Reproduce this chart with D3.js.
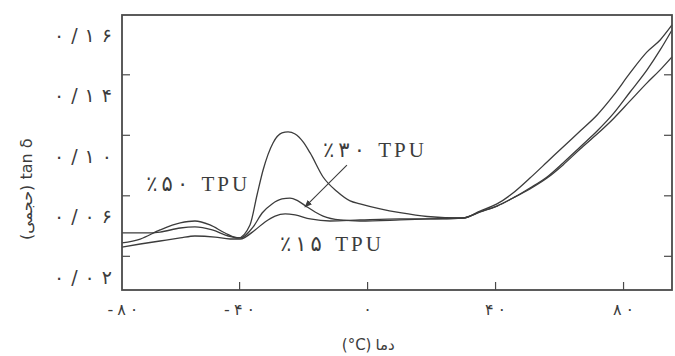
<!DOCTYPE html>
<html lang="fa">
<head>
<meta charset="UTF-8" />
<title>tan δ - TPU</title>
<script src="https://d3js.org/d3.v7.min.js"></script>
<style>
  body { margin: 0; background: #fff; }
  svg text { fill: #3c3c3c; }
  .curve { fill: none; stroke: #3c3c3c; stroke-width: 1.3px; }
  .frame { fill: none; stroke: #4a4a4a; stroke-width: 1.8px; }
  .tick line { stroke: #4a4a4a; stroke-width: 1.2px; }
  .num { font-family: "DejaVu Sans", sans-serif; }
  .lbl { font-family: "Liberation Serif", "DejaVu Sans", serif; }
</style>
</head>
<body>
<svg id="chart" width="675" height="356"></svg>
<script>
// temperature (°C) and tan δ
const temp50 = [-76.6, -70.9, -64.7, -58.4, -53.8, -49.1, -44.4, -40.3, -36.6, -34.4, -32.5, -29.4, -26.6, -24.7, -22.5, -20, -17.8, -13.75, -9.4, -5.3, -2.2, 4.1, 10.3, 18.75, 30, 35.3, 40.6, 45.6, 50.9, 56.25, 61.25, 66.6, 71.9, 76.9, 82.2, 87.5, 91.6, 95.3];
const tan50 = [0.0425, 0.0451, 0.0511, 0.0557, 0.0570, 0.0544, 0.0491, 0.0458, 0.0544, 0.0742, 0.0907, 0.1086, 0.1152, 0.1159, 0.1145, 0.1093, 0.1020, 0.0861, 0.0765, 0.0703, 0.0683, 0.0650, 0.0625, 0.0600, 0.0590, 0.0636, 0.0683, 0.0755, 0.0854, 0.0960, 0.1060, 0.1165, 0.1271, 0.1397, 0.1549, 0.1688, 0.1767, 0.1866];

const temp30 = [-76.6, -69.4, -64.7, -58.4, -53.8, -48.4, -43.4, -39.7, -35.6, -32.8, -29.7, -26.6, -24.1, -21.6, -18.75, -16.25, -13.75, -8.4, -2.2, 10.3, 19.7, 30, 35.3, 40.6, 45.6, 50.9, 56.25, 61.25, 66.6, 71.9, 76.9, 82.2, 87.5, 91.6, 95.3];
const tan30 = [0.0491, 0.0491, 0.0497, 0.0524, 0.0531, 0.0511, 0.0471, 0.0458, 0.0531, 0.0623, 0.0683, 0.0716, 0.0722, 0.0703, 0.0663, 0.0630, 0.0603, 0.0577, 0.0570, 0.0577, 0.0584, 0.0590, 0.0630, 0.0669, 0.0722, 0.0788, 0.0861, 0.0954, 0.1060, 0.1165, 0.1278, 0.1423, 0.1569, 0.1701, 0.1833];

const temp15 = [-76.6, -70.9, -64.7, -58.4, -53.8, -47.5, -42.8, -39.7, -35, -31.9, -28.75, -25.6, -22.5, -17.8, -11.6, -2.2, 10.3, 19.7, 30, 35.3, 40.6, 45.6, 50.9, 56.25, 61.25, 66.6, 71.9, 76.9, 82.2, 87.5, 91.6, 95.3];
const tan15 = [0.0398, 0.0418, 0.0438, 0.0458, 0.0471, 0.0464, 0.0451, 0.0451, 0.0511, 0.0564, 0.0603, 0.0617, 0.0610, 0.0584, 0.0570, 0.0577, 0.0584, 0.0584, 0.0590, 0.0630, 0.0669, 0.0722, 0.0782, 0.0854, 0.0941, 0.1046, 0.1145, 0.1245, 0.1364, 0.1483, 0.1569, 0.1655];

const seriesNames = ["٪۵۰ TPU", "٪۳۰ TPU", "٪۱۵ TPU"];

const xTickValues = [-80, -40, 0, 40, 80];
const xTickLabels = ["-۸۰", "-۴۰", "۰", "۴۰", "۸۰"];
const yTickValues = [0.02, 0.06, 0.10, 0.14, 0.18];
const yTickLabels = ["۰/۰۲", "۰/۰۶", "۰/۱۰", "۰/۱۴", "۰/۱۶"];
const yMarkValues = [0.034, 0.074, 0.114, 0.154];

const xTitleUnit = "(°C)";
const xTitleWord = "دما";
const yTitle = "(حجمی) tan δ";

const svg = d3.select("#chart");
const margin = { top: 15, right: 3, bottom: 66, left: 122 };
const width = +svg.attr("width") - margin.left - margin.right;
const height = +svg.attr("height") - margin.top - margin.bottom;
const g = svg.append("g").attr("transform", `translate(${margin.left},${margin.top})`);

const x = d3.scaleLinear().domain([-76.6, 95.3]).range([0, width]);
const y = d3.scaleLinear().domain([0.0114, 0.1932]).range([height, 0]);

// letter-spacing is ignored for arabic digits, so spread them with dx
function spread(sel, gaps) {
  sel.attr("dx", function () {
    const n = Array.from(this.textContent).length;
    return d3.range(n).map((i) => (i === 0 ? 0 : gaps[Math.min(i, gaps.length) - 1])).join(" ");
  });
}

const zip = (t, v) => t.map((d, i) => ({ t: d, v: v[i] }));
const series = [zip(temp50, tan50), zip(temp30, tan30), zip(temp15, tan15)];

const line = d3.line().x((d) => x(d.t)).y((d) => y(d.v)).curve(d3.curveMonotoneX);

series.forEach((s) => {
  g.append("path").datum(s).attr("class", "curve").attr("d", line);
});

// bottom axis, ticks inside
const xAxis = g.append("g")
  .attr("transform", `translate(0,${height})`)
  .call(d3.axisBottom(x).tickValues(xTickValues)
    .tickFormat((d, i) => xTickLabels[i]).tickSize(-8).tickPadding(14));
xAxis.select(".domain").remove();
xAxis.selectAll("text").attr("class", "num").attr("font-size", 16)
  .style("fill", "#3c3c3c").call(spread, [4]);
xAxis.selectAll(".tick").each(function (d) {
  const t = d3.select(this);
  if (x(d) < 0) {
    t.select("line").remove();
    t.select("text").attr("text-anchor", "start").attr("x", -x(d) - 15);
  }
});

// left labels
const yAxis = g.append("g")
  .call(d3.axisLeft(y).tickValues(yTickValues)
    .tickFormat((d, i) => yTickLabels[i]).tickSize(0).tickPadding(10));
yAxis.select(".domain").remove();
yAxis.selectAll("text").attr("class", "num").attr("font-size", 19)
  .style("fill", "#3c3c3c").call(spread, [7]);

// tick marks on both sides
const leftMarks = g.append("g")
  .call(d3.axisLeft(y).tickValues(yMarkValues).tickFormat("").tickSize(-8));
leftMarks.select(".domain").remove();
const rightMarks = g.append("g").attr("transform", `translate(${width},0)`)
  .call(d3.axisRight(y).tickValues(yMarkValues).tickFormat("").tickSize(-8));
rightMarks.select(".domain").remove();

g.append("rect").attr("class", "frame")
  .attr("x", 0).attr("y", 0).attr("width", width).attr("height", height);

// curve labels
const labels = [
  { t: -69, v: 0.077 },
  { t: -13.75, v: 0.099 },
  { t: -27.2, v: 0.0375 },
];
labels.forEach((p, i) => {
  g.append("text").attr("class", "lbl")
    .attr("x", x(p.t)).attr("y", y(p.v))
    .attr("font-size", 21)
    .text(seriesNames[i])
    .call(spread, [4, 4, 5, 3, 3, 3]);
});

// arrow to the 30% curve
svg.append("defs").append("marker")
  .attr("id", "head").attr("viewBox", "0 0 10 10")
  .attr("refX", 9).attr("refY", 5)
  .attr("markerWidth", 7).attr("markerHeight", 7)
  .attr("orient", "auto")
  .append("path").attr("d", "M0,1 L10,5 L0,9 Z").attr("fill", "#3c3c3c");
g.append("line")
  .attr("x1", x(-6.3)).attr("y1", y(0.094))
  .attr("x2", x(-19.4)).attr("y2", y(0.0663))
  .attr("stroke", "#3c3c3c").attr("stroke-width", 1.1)
  .attr("marker-end", "url(#head)");

// axis titles: unit on the left, word on the right
const titleX = margin.left + x(2);
svg.append("text").attr("class", "num")
  .attr("x", titleX - 2).attr("y", 350)
  .attr("text-anchor", "end").attr("font-size", 15)
  .text(xTitleUnit);
svg.append("text").attr("class", "num")
  .attr("x", titleX + 2).attr("y", 350)
  .attr("text-anchor", "start").attr("font-size", 15)
  .text(xTitleWord);

svg.append("text").attr("class", "num")
  .attr("transform", `translate(32,${margin.top + y(0.078)}) rotate(-90)`)
  .attr("text-anchor", "middle").attr("font-size", 16)
  .text(yTitle);
</script>
</body>
</html>
